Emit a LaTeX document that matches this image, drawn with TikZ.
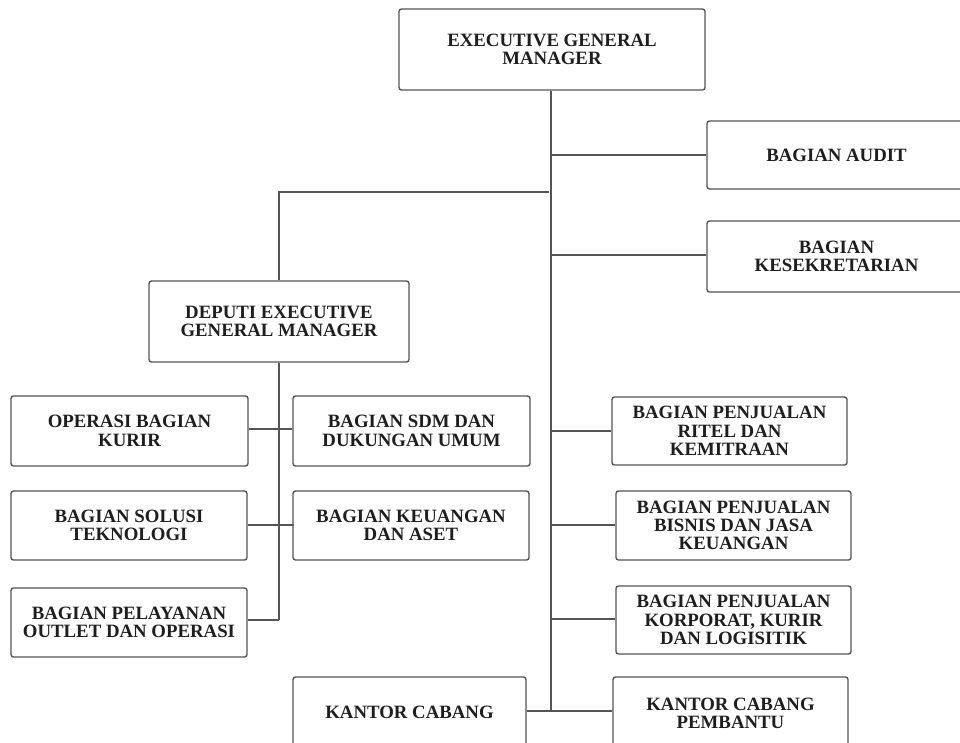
\documentclass[tikz,border=0pt]{standalone}
\usepackage{fontspec}
\setmainfont{Liberation Serif}
\definecolor{linec}{HTML}{555555}
\definecolor{textc}{HTML}{1E1E1E}
\tikzset{
  orgbox/.style={draw=linec, line width=1.4pt, rounded corners=2.5pt, fill=white,
    inner sep=0pt, align=center, text=textc,
    font=\bfseries\fontsize{18.8}{18.3}\selectfont},
  conn/.style={draw=linec, line width=1.5pt}
}
\begin{document}
\begin{tikzpicture}[x=1pt,y=-1pt]
\useasboundingbox[fill=white] (0,0) rectangle (960,742);

% nodes (centre, width, height from pixel measures)
\node[orgbox, minimum width=306pt, minimum height=81pt] (egm) at (552,49.5) {EXECUTIVE GENERAL\\MANAGER};
\node[orgbox, minimum width=259pt, minimum height=68pt] (audit) at (836.5,155) {BAGIAN AUDIT};
\node[orgbox, minimum width=259pt, minimum height=71pt] (sekr) at (836.5,256.5) {BAGIAN\\KESEKRETARIAN};
\node[orgbox, minimum width=260pt, minimum height=81pt] (deputi) at (279,321.5) {DEPUTI EXECUTIVE\\GENERAL MANAGER};

\node[orgbox, minimum width=237pt, minimum height=70pt] (kurir) at (129.5,431) {OPERASI BAGIAN\\KURIR};
\node[orgbox, minimum width=237pt, minimum height=70pt] (sdm) at (411.5,431) {BAGIAN SDM DAN\\DUKUNGAN UMUM};
\node[orgbox, minimum width=236pt, minimum height=69pt] (solusi) at (129,525.5) {BAGIAN SOLUSI\\TEKNOLOGI};
\node[orgbox, minimum width=236pt, minimum height=69pt] (keu) at (411,525.5) {BAGIAN KEUANGAN\\DAN ASET};
\node[orgbox, minimum width=236pt, minimum height=69pt] (pelayanan) at (129,622.5) {BAGIAN PELAYANAN\\OUTLET DAN OPERASI};

\node[orgbox, minimum width=235pt, minimum height=68pt] (ritel) at (729.5,431) {BAGIAN PENJUALAN\\RITEL DAN\\KEMITRAAN};
\node[orgbox, minimum width=235pt, minimum height=69pt] (bisnis) at (733.5,525.5) {BAGIAN PENJUALAN\\BISNIS DAN JASA\\KEUANGAN};
\node[orgbox, minimum width=235pt, minimum height=68pt] (korporat) at (733.5,620) {BAGIAN PENJUALAN\\KORPORAT, KURIR\\DAN LOGISITIK};

\node[orgbox, minimum width=233pt, minimum height=70pt] (kc) at (409.5,712) {KANTOR CABANG};
\node[orgbox, minimum width=235pt, minimum height=72pt] (kcp) at (730.5,713) {KANTOR CABANG\\PEMBANTU};

% junction coordinates
\coordinate (tEnd) at (551,711);
\coordinate (jDep) at (549,192);
\coordinate (ySek) at (551,255);
\coordinate (yKur) at (279,429);
\coordinate (ySol) at (279,525);
\coordinate (dBot) at (279,620);
\coordinate (yKor) at (551,619);

% main trunk
\draw[conn] (egm.south -| tEnd) -- (tEnd);
\draw[conn] (audit.west -| tEnd) -- (audit.west);
\draw[conn] (ySek) -- (sekr.west |- ySek);
\draw[conn] (jDep) -| (deputi.north);

% deputi branch
\draw[conn] (deputi.south) -- (dBot);
\draw[conn] (kurir.east |- yKur) -- (sdm.west |- yKur);
\draw[conn] (solusi.east |- ySol) -- ([xshift=2pt]keu.west |- ySol);
\draw[conn] (pelayanan.east |- dBot) -- (dBot);

% right branches
\draw[conn] (ritel.west -| tEnd) -- (ritel.west);
\draw[conn] (tEnd |- ySol) -- (bisnis.west |- ySol);
\draw[conn] (yKor) -- (korporat.west |- yKor);
\draw[conn] (kc.east |- tEnd) -- (kcp.west |- tEnd);
\end{tikzpicture}
\end{document}
